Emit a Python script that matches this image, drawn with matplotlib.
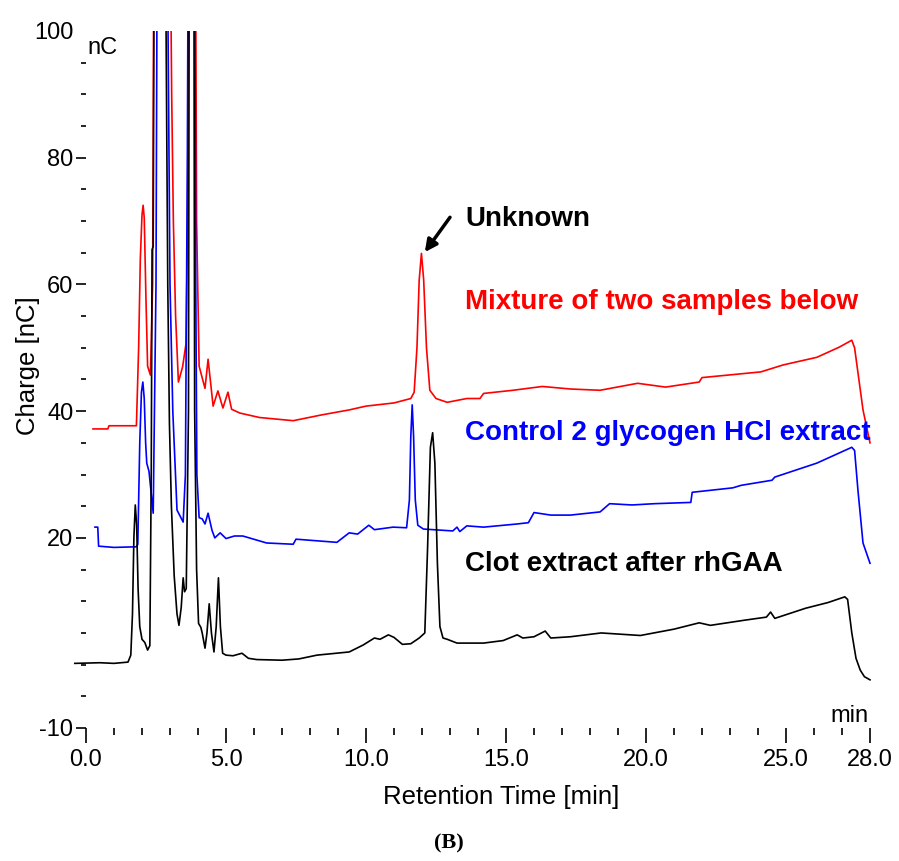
import numpy as np
import matplotlib
matplotlib.use("Agg")
import matplotlib.pyplot as plt
from matplotlib.ticker import FixedLocator
from matplotlib.patches import Rectangle

plt.rcParams['font.family'] = ['Liberation Sans', 'DejaVu Sans']

# trace vertices (time in min, charge in nC)
# peaks that run off the top are given 150 so the axis clips them
black_t = [-0.4, 0.5, 1.0, 1.5, 1.6, 1.66, 1.71, 1.76, 1.81, 1.86, 1.92, 2.0, 2.1, 2.2, 2.28,
           2.33, 2.36, 2.40, 2.46, 2.80, 2.86, 2.92, 2.98, 3.05, 3.15, 3.25, 3.32, 3.40, 3.47,
           3.52, 3.58, 3.66, 3.70, 3.84, 3.88, 3.95, 4.02, 4.10, 4.15, 4.25, 4.32, 4.40, 4.48,
           4.57, 4.65, 4.73, 4.80, 4.88, 5.0, 5.25, 5.57, 5.8, 6.1, 7.0, 7.6, 8.25, 9.4, 9.9,
           10.3, 10.5, 10.8, 11.0, 11.3, 11.6, 11.9, 12.1, 12.2, 12.3, 12.38, 12.46, 12.55,
           12.64, 12.75, 12.9, 13.25, 14.2, 14.9, 15.4, 15.6, 16.0, 16.4, 16.6, 17.3, 18.4,
           19.8, 21.0, 21.9, 22.3, 23.5, 24.3, 24.45, 24.6, 25.7, 26.5, 27.1, 27.2, 27.35,
           27.5, 27.65, 27.8, 28.0]
black_y = [0.2, 0.3, 0.2, 0.4, 1.5, 8, 20, 25.2, 22, 12, 6, 4.0, 3.5, 2.3, 3,
           30, 65.5, 66, 150, 150, 100, 60, 38, 25, 14, 8, 6.2, 9, 13.7,
           11.5, 12, 40, 150, 150, 40, 15, 6.5, 5.9, 5.0, 2.6, 5, 9.6, 5,
           2.0, 6, 13.7, 6, 1.8, 1.5, 1.4, 1.8, 1.0, 0.8, 0.7, 0.9, 1.5, 2.0, 3.1,
           4.2, 4.0, 4.7, 4.3, 3.2, 3.3, 4.2, 5.0, 18.5, 34.3, 36.6, 31.8, 16,
           6, 4.2, 4.0, 3.4, 3.4, 3.8, 4.7, 4.2, 4.4, 5.3, 4.2, 4.4, 5.0,
           4.6, 5.6, 6.6, 6.2, 7.0, 7.5, 8.3, 7.3, 8.9, 9.8, 10.7, 10.3, 5.0,
           1.0, -0.85, -1.9, -2.4]

blue_t = [0.32, 0.42, 0.45, 1.0, 1.8, 1.85, 1.92, 1.98, 2.03, 2.08, 2.13, 2.17, 2.25, 2.4,
          2.5, 2.57, 2.88, 2.93, 3.0, 3.1, 3.25, 3.47, 3.55, 3.62, 3.68, 3.86, 3.92, 3.96,
          4.04, 4.15, 4.25, 4.36, 4.5, 4.6, 4.79, 5.0, 5.3, 5.6, 6.45, 7.4, 7.5, 8.96, 9.4,
          9.7, 10.1, 10.3, 10.97, 11.45, 11.55, 11.6, 11.65, 11.7, 11.76, 11.85, 12.05,
          13.1, 13.25, 13.35, 13.6, 14.2, 15.4, 15.8, 16.0, 16.6, 17.3, 18.36, 18.7, 19.5,
          20.3, 21.6, 21.65, 23.1, 23.4, 24.5, 24.6, 26.1, 27.35, 27.45, 27.57, 27.75, 28.0]
blue_y = [21.7, 21.7, 18.7, 18.5, 18.6, 19, 35, 43, 44.6, 42, 35, 31.8, 30.5, 23.9,
          60, 150, 150, 100, 60, 40, 24.4, 22.5, 30, 80, 150, 150, 60, 30,
          23.2, 23.0, 22.2, 23.9, 21.2, 20.0, 20.8, 19.9, 20.3, 20.3, 19.2, 19.0, 19.8, 19.3, 20.8,
          20.6, 22.0, 21.3, 21.7, 21.6, 26, 36, 41.0, 36, 26, 22.0, 21.4,
          21.1, 21.7, 21.0, 21.9, 21.7, 22.2, 22.4, 24.0, 23.6, 23.6, 24.1, 25.4, 25.2,
          25.4, 25.6, 27.2, 27.9, 28.3, 29.1, 29.6, 31.8, 34.3, 33.8, 27.5, 19.2, 16.0]

red_t = [0.25, 0.78, 0.82, 1.8, 1.88, 1.94, 2.0, 2.04, 2.08, 2.14, 2.2, 2.3, 2.38, 2.45,
         2.52, 2.95, 3.0, 3.06, 3.12, 3.2, 3.3, 3.45, 3.57, 3.63, 3.68, 3.88, 3.95, 4.04,
         4.25, 4.36, 4.54, 4.71, 4.89, 5.07, 5.2, 5.5, 6.2, 7.4, 8.4, 9.4, 10.0, 11.0,
         11.6, 11.72, 11.82, 11.9, 11.98, 12.06, 12.16, 12.28, 12.5, 12.9, 13.6, 14.07,
         14.2, 15.25, 16.3, 17.3, 18.36, 19.7, 20.7, 21.9, 22.0, 24.1, 24.9, 26.1, 26.9,
         27.35, 27.45, 27.75, 28.0]
red_y = [37.2, 37.2, 37.7, 37.7, 50, 64, 71, 72.5, 70.5, 58, 47.1, 45.7, 60, 150,
         150, 150, 120, 90, 70, 55, 44.6, 47, 50.6, 70, 150, 150, 70, 47.1,
         43.6, 48.2, 40.8, 43.2, 40.5, 43.0, 40.3, 39.7, 39.0, 38.5, 39.4, 40.2, 40.8, 41.3,
         42.0, 43, 50, 60.7, 64.9, 60.7, 50, 43.3, 42.0, 41.4, 42.0, 42.0,
         42.8, 43.3, 43.9, 43.5, 43.3, 44.4, 43.8, 44.6, 45.3, 46.2, 47.3, 48.5, 50.1,
         51.2, 50.0, 40.2, 35.0]

x_major = [0, 5, 10, 15, 20, 25, 28]
x_labels = ['0.0', '5.0', '10.0', '15.0', '20.0', '25.0', '28.0']
y_major = [-10, 20, 40, 60, 80, 100]
y_labels = ['-10', '20', '40', '60', '80', '100']

fig = plt.figure(figsize=(8.99, 8.61), dpi=100)
ax = fig.add_axes([86 / 899, 133 / 861, 784 / 899, 697 / 861])

# clip only at the top, the black trace starts a little left of 0 min
clip = Rectangle((-2, -20), 32, 120, transform=ax.transData)
for t, y, c in [(red_t, red_y, '#ff0000'), (blue_t, blue_y, '#0000ff'), (black_t, black_y, 'black')]:
    ln, = ax.plot(t, y, color=c, lw=1.2)
    ln.set_clip_path(clip)

ax.set_xlim(0, 28)
ax.set_ylim(-10, 100)
for s in ax.spines.values():
    s.set_visible(False)

ax.xaxis.set_major_locator(FixedLocator(x_major))
ax.set_xticklabels(x_labels)
ax.xaxis.set_minor_locator(FixedLocator([m for m in range(1, 28) if m not in x_major]))
ax.yaxis.set_major_locator(FixedLocator(y_major))
ax.set_yticklabels(y_labels)
ax.yaxis.set_minor_locator(FixedLocator([v for v in range(-5, 100, 5) if v not in y_major]))

ax.tick_params(axis='x', which='major', length=11, width=1.2, pad=4, labelsize=17)
ax.tick_params(axis='x', which='minor', length=5, width=1.2)
ax.tick_params(axis='y', which='major', length=7, width=1.2, pad=2, labelsize=17)
ax.tick_params(axis='y', which='minor', length=3.6, width=1.2)
ax.yaxis.get_major_ticks()[-1].tick1line.set_visible(False)

fig.text(28 / 899, 1 - 366 / 861, 'Charge [nC]', rotation=90, ha='center', va='center', fontsize=18.5)
fig.text(501 / 899, 1 - 797 / 861, 'Retention Time [min]', ha='center', va='center', fontsize=18.5)
fig.text(449 / 899, 1 - 843 / 861, '(B)', ha='center', va='center', fontsize=16,
         fontweight='bold', family='Liberation Serif')

ax.text(0.04, 96.3, 'nC', fontsize=17, va='baseline', clip_on=False)
ax.text(26.57, -9.05, 'min', fontsize=17, va='baseline', clip_on=False)

lab_x = 13.54
ax.text(lab_x, 69.2, 'Unknown', fontsize=20, fontweight='bold', color='black', va='baseline')
ax.text(lab_x, 56.2, 'Mixture of two samples below', fontsize=20, fontweight='bold',
        color='#ff0000', va='baseline')
ax.text(lab_x, 35.4, 'Control 2 glycogen HCl extract', fontsize=20, fontweight='bold',
        color='#0000ff', va='baseline')
ax.text(lab_x, 14.8, 'Clot extract after rhGAA', fontsize=20, fontweight='bold',
        color='black', va='baseline')
ax.annotate('', xy=(12.1, 65.1), xytext=(13.0, 70.6),
            arrowprops=dict(arrowstyle='-|>', lw=2.5, mutation_scale=18, color='black',
                            shrinkA=0, shrinkB=0))

fig.savefig('out.png', dpi=100)
